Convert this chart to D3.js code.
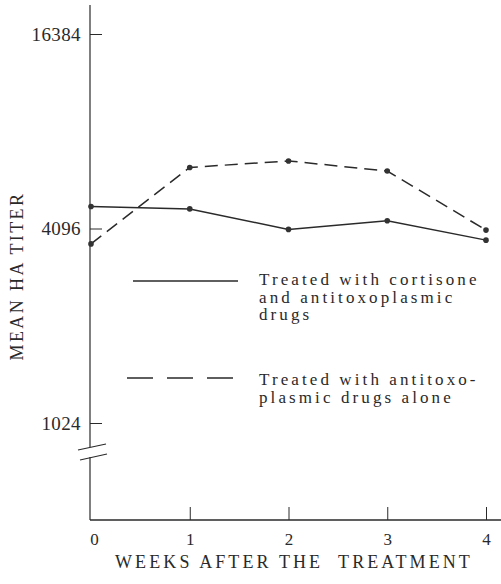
<!DOCTYPE html>
<html>
<head>
<meta charset="utf-8">
<script src="https://cdn.jsdelivr.net/npm/d3@7"></script>
<style>
  html, body { margin: 0; padding: 0; background: #fff; }
  svg { display: block; }
  text { font-family: "Liberation Serif", "Times New Roman", serif; fill: #2a2a2a; }
</style>
</head>
<body>
<script>
// ---- data ----
const weeks = [0, 1, 2, 3, 4];
const cortisoneSeries = [4790, 4710, 4070, 4330, 3770];
const aloneSeries = [3670, 6330, 6630, 6170, 4050];
const yTickValues = [1024, 4096, 16384];
const xTickValues = [0, 1, 2, 3, 4];
const legendLabels = [
  ["Treated with cortisone", "and antitoxoplasmic", "drugs"],
  ["Treated with antitoxo-", "plasmic drugs alone"]
];
const yTitle = "MEAN HA TITER";
const xTitle = "WEEKS AFTER THE\u00A0 TREATMENT";

// ---- layout ----
const W = 501, H = 584;
const axisX = 90, axisBottom = 520, axisTop = 5;
const ink = "#2a2a2a";

const svg = d3.select("body").append("svg").attr("width", W).attr("height", H);

const x = d3.scaleLinear().domain([0, 4]).range([91, 486]);
const y = d3.scaleLog().base(2).domain([1024, 16384]).range([423, 34]);

// y axis line with break
svg.append("line").attr("x1", axisX).attr("x2", axisX).attr("y1", axisTop).attr("y2", 447)
  .attr("stroke", ink).attr("stroke-width", 1.2);
svg.append("line").attr("x1", axisX).attr("x2", axisX).attr("y1", 457).attr("y2", axisBottom)
  .attr("stroke", ink).attr("stroke-width", 1.2);
// break marks
[[78, 450, 106, 444], [80, 460, 107, 454]].forEach(d => {
  svg.append("line").attr("x1", d[0]).attr("y1", d[1]).attr("x2", d[2]).attr("y2", d[3])
    .attr("stroke", ink).attr("stroke-width", 1.2);
});

// x axis line
svg.append("line").attr("x1", axisX).attr("x2", W).attr("y1", axisBottom).attr("y2", axisBottom)
  .attr("stroke", ink).attr("stroke-width", 1.4);

// y axis ticks
const yAxis = d3.axisLeft(y).tickValues(yTickValues).tickFormat(d3.format("d"))
  .tickSizeInner(-12).tickSizeOuter(0).tickPadding(9);
const gy = svg.append("g").attr("transform", `translate(${axisX},0)`).call(yAxis);
gy.select(".domain").remove();
gy.selectAll(".tick line").attr("stroke", ink).attr("stroke-width", 1);
gy.selectAll(".tick text").attr("font-size", 19).attr("font-family", "Liberation Serif")
  .attr("letter-spacing", "0.4px").attr("fill", ink);

// x axis ticks
const xAxis = d3.axisBottom(x).tickValues(xTickValues).tickFormat(d3.format("d"))
  .tickSizeInner(-13).tickSizeOuter(0).tickPadding(13);
const gx = svg.append("g").attr("transform", `translate(0,${axisBottom})`).call(xAxis);
gx.select(".domain").remove();
gx.selectAll(".tick line").attr("stroke", ink).attr("stroke-width", 1)
  .attr("opacity", (d) => d === 0 ? 0 : 1);
gx.selectAll(".tick text").attr("font-size", 17).attr("font-family", "Liberation Serif").attr("fill", ink)
  .attr("dx", d => d === 0 ? 3 : 0);

// titles
svg.append("text").attr("transform", `translate(23,276) rotate(-90)`)
  .attr("text-anchor", "middle").attr("font-size", 18).attr("letter-spacing", "2.4px")
  .text(yTitle);
svg.append("text").attr("x", 294).attr("y", 568)
  .attr("text-anchor", "middle").attr("font-size", 18).attr("letter-spacing", "3.1px")
  .style("white-space", "pre")
  .text(xTitle);

// lines
const line = d3.line().x((d, i) => x(weeks[i])).y(d => y(d));
svg.append("path").datum(cortisoneSeries).attr("d", line)
  .attr("fill", "none").attr("stroke", ink).attr("stroke-width", 1.5);
svg.append("path").datum(aloneSeries).attr("d", line)
  .attr("fill", "none").attr("stroke", ink).attr("stroke-width", 1.5)
  .attr("stroke-dasharray", "13,7");

[cortisoneSeries, aloneSeries].forEach(s => {
  svg.append("g").selectAll("circle").data(s).join("circle")
    .attr("cx", (d, i) => x(weeks[i])).attr("cy", d => y(d)).attr("r", 2.8)
    .attr("fill", "#333");
});

// legend
svg.append("line").attr("x1", 133).attr("x2", 238).attr("y1", 281).attr("y2", 281)
  .attr("stroke", ink).attr("stroke-width", 1.5);
svg.append("line").attr("x1", 127).attr("x2", 238).attr("y1", 378).attr("y2", 378)
  .attr("stroke", ink).attr("stroke-width", 1.5).attr("stroke-dasharray", "26,14");

const legendY = [285, 385];
legendLabels.forEach((lines, k) => {
  const t = svg.append("text").attr("x", 259).attr("y", legendY[k])
    .attr("font-size", 17).attr("letter-spacing", "3.1px");
  lines.forEach((ln, j) => {
    t.append("tspan").attr("x", 259).attr("dy", j === 0 ? 0 : 17.5).text(ln);
  });
});
</script>
</body>
</html>
